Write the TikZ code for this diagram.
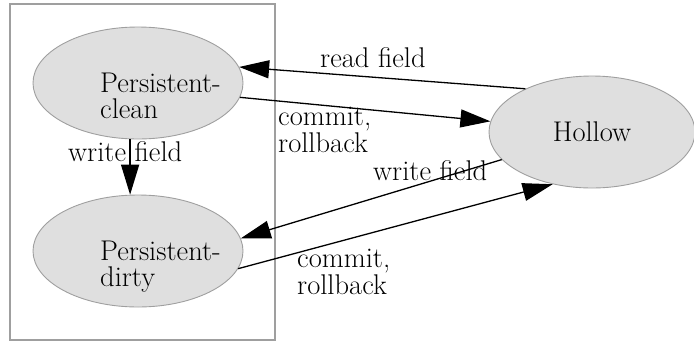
\documentclass[tikz,border=0pt]{standalone}
\usetikzlibrary{shapes.geometric,arrows.meta}
\begin{document}
\begin{tikzpicture}[x=1pt,y=-1pt,
  state/.style={ellipse,draw=gray!75,line width=0.9pt,fill=gray!25,minimum width=210pt,minimum height=112pt,inner sep=0pt,font=\fontsize{28.5}{26}\selectfont},
  lbl/.style={inner sep=0pt,align=left,font=\fontsize{28.5}{26.5}\selectfont},
  stext/.style={inner sep=0pt,align=left,anchor=base west,font=\fontsize{28.5}{26}\selectfont},
  edge/.style={line width=1.3pt,-{Triangle[length=30pt,width=18pt]}},
  cluster/.style={draw=gray!75,line width=1.4pt}]
\useasboundingbox (0,0) rectangle (694,341);
\draw[cluster] (10,4) rectangle (275,340);
\node[state] (clean) at (138,83) {};
\node[stext] (cleantxt) at (100,118) {Persistent-\\clean};
\node[state] (dirty) at (138,251) {};
\node[stext] (dirtytxt) at (100,286) {Persistent-\\dirty};
\node[state,minimum width=206pt] (hollow) at (592,132) {Hollow};
\draw[edge] (hollow.147) -- (clean.9.5);
\draw[edge] (clean.-8.7) -- (hollow.174);
\draw[edge] (clean.-98) -- (dirty.98);
\draw[edge] (hollow.197.6) -- (dirty.7.8);
\draw[edge] (dirty.-10.4) -- (hollow.233.6);
\node[lbl,anchor=base west] (l1) at (320,67) {read field};
\node[lbl,anchor=base west] (l2) at (278,152) {commit,\\rollback};
\node[lbl,anchor=base west] (l3) at (68,161) {write field};
\node[lbl,anchor=base west] (l4) at (373,180) {write field};
\node[lbl,anchor=base west] (l5) at (297,294) {commit,\\rollback};
\end{tikzpicture}
\end{document}
